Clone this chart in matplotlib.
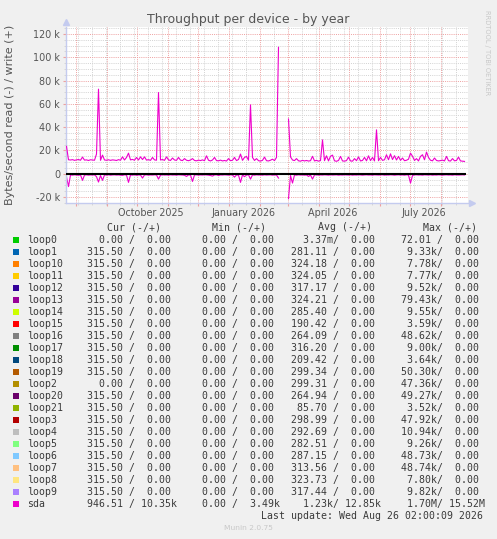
import numpy as np
import matplotlib
matplotlib.use('Agg')
import matplotlib.pyplot as plt
import matplotlib.dates as mdates
from matplotlib.patches import Rectangle
from matplotlib.ticker import FixedLocator, MultipleLocator, FuncFormatter, NullFormatter

# ---------------- data ----------------
start_day = np.datetime64('2025-07-22')
first_sample = np.datetime64('2025-07-22T12:00')
end_day = np.datetime64('2026-08-28')
data_end = np.datetime64('2026-08-26')

# sda write (+) in kB/s, one sample every 2 days
write_k = [
    23.5, 12.0, 11.8, 12.1, 11.5, 11.9, 12.2, 11.6, 14.3, 11.7, 11.9, 11.4, 12.0, 11.8, 11.6, 16.9, 72.6, 11.5, 16.0, 11.8,
    11.6, 12.0, 11.5, 11.9, 11.7, 11.4, 12.1, 11.6, 14.5, 11.8, 14.0, 17.7, 11.9, 12.3, 11.6, 14.0, 11.8, 14.5, 12.2, 14.5,
    11.7, 12.1, 11.5, 14.0, 11.9, 11.6, 69.7, 11.8, 12.2, 11.5, 14.5, 11.9, 11.4, 13.5, 11.8, 11.5, 14.0, 11.7, 11.3, 13.0,
    11.6, 11.2, 11.8, 13.0, 11.4, 11.1, 11.7, 11.3, 11.9, 11.2, 15.4, 11.6, 11.0, 11.8, 14.0, 11.3, 11.1, 11.7, 11.0, 11.4,
    10.9, 13.0, 11.2, 11.6, 14.0, 11.3, 12.2, 16.9, 11.5, 14.0, 14.9, 11.6, 59.1, 14.0, 11.4, 13.0, 11.2, 10.9, 11.5, 14.3,
    11.2, 11.0, 11.6, 12.5, 11.3, 14.0, 108.5, np.nan, np.nan, np.nan, np.nan, 47.0, 14.5, 11.8, 11.3, 13.0, 11.1, 10.8, 11.5, 11.0,
    11.4, 10.9, 11.2, 15.0, 11.0, 11.5, 10.8, 11.3, 29.1, 11.2, 15.4, 11.0, 15.0, 16.0, 11.1, 10.7, 11.4, 14.9, 11.0, 10.8,
    11.3, 14.3, 11.0, 10.8, 13.0, 11.2, 14.5, 11.0, 11.4, 14.0, 11.1, 15.4, 11.3, 14.0, 11.0, 37.7, 11.2, 14.0, 11.5, 12.0,
    16.3, 12.0, 17.1, 12.2, 15.5, 11.8, 14.9, 11.5, 13.5, 11.2, 11.6, 12.5, 17.7, 15.0, 11.4, 13.0, 11.0, 14.9, 16.3, 12.0,
    18.6, 14.0, 11.6, 11.1, 13.5, 11.4, 11.0, 11.3, 11.7, 11.0, 14.9, 11.2, 10.9, 13.0, 11.1, 11.4, 14.3, 11.0, 10.8, 10.6,
]

# sda read (-) in kB/s (magnitude), one sample every 2 days
read_k = [
    2.5, 11.0, 1.0, 1.2, 0.9, 1.1, 1.3, 1.0, 5.7, 1.1, 0.9, 1.2, 1.0, 1.1, 0.9, 2.5, 7.1, 1.5, 5.7, 1.0,
    1.1, 0.9, 1.2, 1.0, 0.9, 1.1, 1.0, 1.2, 1.4, 0.9, 1.1, 7.4, 1.0, 1.2, 0.9, 1.3, 1.0, 1.1, 3.7, 1.0,
    0.9, 1.2, 1.0, 1.1, 0.9, 1.0, 4.6, 1.2, 0.9, 1.1, 1.0, 1.2, 0.9, 1.1, 1.0, 1.2, 0.9, 1.0, 1.1, 1.3,
    2.3, 1.0, 1.1, 6.6, 1.0, 0.9, 1.2, 1.0, 1.1, 0.9, 1.0, 1.2, 1.5, 2.0, 1.0, 0.9, 1.5, 1.0, 1.1, 0.9,
    1.0, 1.2, 0.9, 1.1, 2.9, 1.0, 1.2, 7.4, 1.0, 2.5, 1.1, 0.9, 4.6, 1.0, 1.2, 0.9, 1.1, 1.0, 1.2, 0.9,
    1.1, 1.0, 0.9, 1.2, 1.0, 1.1, 3.7, np.nan, np.nan, np.nan, np.nan, 21.4, 1.5, 8.0, 1.0, 1.2, 0.9, 1.1, 1.0, 1.2,
    1.0, 2.3, 1.1, 4.6, 1.0, 0.9, 1.2, 1.0, 1.1, 0.9, 1.0, 1.2, 0.9, 1.1, 1.0, 0.9, 1.2, 1.0, 1.1, 0.9,
    1.0, 1.1, 0.9, 1.2, 1.0, 1.1, 0.9, 1.0, 1.2, 1.0, 0.9, 1.1, 1.0, 1.2, 0.9, 1.0, 1.1, 1.0, 0.9, 1.2,
    1.0, 1.1, 0.9, 1.0, 1.2, 1.0, 0.9, 1.1, 1.0, 1.2, 0.9, 1.1, 8.0, 1.5, 1.0, 0.9, 1.1, 1.0, 1.2, 0.9,
    1.0, 1.1, 0.9, 1.2, 1.0, 1.1, 0.9, 1.0, 1.2, 1.0, 0.9, 1.1, 1.0, 1.2, 0.9, 1.0, 1.1, 1.0, 0.9, 1.0,
]

xlabel_dates = ['2025-10-15', '2026-01-15', '2026-04-15', '2026-07-15']
xlabel_texts = ['October 2025', 'January 2026', 'April 2026', 'July 2026']

names = ['loop0', 'loop1', 'loop10', 'loop11', 'loop12', 'loop13', 'loop14', 'loop15',
         'loop16', 'loop17', 'loop18', 'loop19', 'loop2', 'loop20', 'loop21', 'loop3',
         'loop4', 'loop5', 'loop6', 'loop7', 'loop8', 'loop9', 'sda']
colors = ['#00cc00', '#0066b3', '#ff8000', '#ffcc00', '#330099', '#990099', '#ccff00', '#ff0000',
          '#808080', '#008f00', '#00487d', '#b35a00', '#b38f00', '#6b006b', '#8fb300', '#b30000',
          '#bebebe', '#80ff80', '#80c9ff', '#ffc080', '#ffe680', '#aa80ff', '#ee00cc']
cur_read = ['0.00', '315.50', '315.50', '315.50', '315.50', '315.50', '315.50', '315.50',
            '315.50', '315.50', '315.50', '315.50', '0.00', '315.50', '315.50', '315.50',
            '315.50', '315.50', '315.50', '315.50', '315.50', '315.50', '946.51']
cur_write = ['0.00', '0.00', '0.00', '0.00', '0.00', '0.00', '0.00', '0.00',
             '0.00', '0.00', '0.00', '0.00', '0.00', '0.00', '0.00', '0.00',
             '0.00', '0.00', '0.00', '0.00', '0.00', '0.00', '10.35k']
min_read = ['0.00', '0.00', '0.00', '0.00', '0.00', '0.00', '0.00', '0.00',
            '0.00', '0.00', '0.00', '0.00', '0.00', '0.00', '0.00', '0.00',
            '0.00', '0.00', '0.00', '0.00', '0.00', '0.00', '0.00']
min_write = ['0.00', '0.00', '0.00', '0.00', '0.00', '0.00', '0.00', '0.00',
             '0.00', '0.00', '0.00', '0.00', '0.00', '0.00', '0.00', '0.00',
             '0.00', '0.00', '0.00', '0.00', '0.00', '0.00', '3.49k']
avg_read = ['3.37m', '281.11', '324.18', '324.05', '317.17', '324.21', '285.40', '190.42',
            '264.09', '316.20', '209.42', '299.34', '299.31', '264.94', '85.70', '298.99',
            '292.69', '282.51', '287.15', '313.56', '323.73', '317.44', '1.23k']
avg_write = ['0.00', '0.00', '0.00', '0.00', '0.00', '0.00', '0.00', '0.00',
             '0.00', '0.00', '0.00', '0.00', '0.00', '0.00', '0.00', '0.00',
             '0.00', '0.00', '0.00', '0.00', '0.00', '0.00', '12.85k']
max_read = ['72.01', '9.33k', '7.78k', '7.77k', '9.52k', '79.43k', '9.55k', '3.59k',
            '48.62k', '9.00k', '3.64k', '50.30k', '47.36k', '49.27k', '3.52k', '47.92k',
            '10.94k', '9.26k', '48.73k', '48.74k', '7.80k', '9.82k', '1.70M']
max_write = ['0.00', '0.00', '0.00', '0.00', '0.00', '0.00', '0.00', '0.00',
             '0.00', '0.00', '0.00', '0.00', '0.00', '0.00', '0.00', '0.00',
             '0.00', '0.00', '0.00', '0.00', '0.00', '0.00', '15.52M']

# ---------------- figure ----------------
W, H, DPI = 497, 539, 100
BG = '#f0f0f0'
TXT = '#3a3a3a'
AXC = '#c4cbef'
MGRID = '#eea0a0'
GRID = '#d2d2d2'

fig = plt.figure(figsize=(W / DPI, H / DPI), dpi=DPI, facecolor=BG)


def fx(px):
    return px / W


def fy(py):
    return 1 - py / H


ax_l, ax_r, ax_t, ax_b = 66, 468, 26.7, 203
ax = fig.add_axes([fx(ax_l), fy(ax_b), (ax_r - ax_l) / W, (ax_b - ax_t) / H])
ax.set_facecolor('white')

dates = first_sample + np.arange(len(write_k)) * np.timedelta64(2, 'D')
write_arr = np.array(write_k, dtype=float)
read_arr = -np.array(read_k, dtype=float)

ax.hlines(0, start_day, data_end, color='black', lw=1.5, zorder=3)
ax.plot(dates, write_arr, color='#ee00cc', lw=0.8, zorder=4)
ax.plot(dates, read_arr, color='#ee00cc', lw=0.8, zorder=2)

ax.set_xlim(start_day, end_day)
ax.set_ylim(-25.1, 126.2)

# grids
ax.xaxis.set_major_locator(mdates.MonthLocator())
ax.xaxis.set_major_formatter(NullFormatter())
biweekly = np.arange(np.datetime64('2025-08-03'), end_day, np.timedelta64(14, 'D'))
ax.xaxis.set_minor_locator(FixedLocator(mdates.date2num(biweekly)))
ax.xaxis.set_minor_formatter(NullFormatter())
ax.yaxis.set_major_locator(MultipleLocator(20))
ax.yaxis.set_minor_locator(MultipleLocator(5))
ax.yaxis.set_major_formatter(FuncFormatter(lambda v, p: '0' if abs(v) < 1e-9 else f'{int(round(v))} k'))

ax.grid(which='minor', color=GRID, linestyle=(0, (1, 1.2)), lw=0.7)
ax.grid(which='major', color=MGRID, linestyle=(0, (1, 1.2)), lw=0.7)
ax.set_axisbelow(True)

for s in ['top', 'right']:
    ax.spines[s].set_visible(False)
for s in ['left', 'bottom']:
    ax.spines[s].set_color(AXC)
    ax.spines[s].set_linewidth(1.0)

ax.tick_params(axis='y', which='major', length=2, color=MGRID, labelsize=6.9, labelcolor='#555555', pad=2.3)
ax.tick_params(axis='y', which='minor', length=1.5, color=GRID)
ax.tick_params(axis='x', which='major', length=2.2, color=MGRID)
ax.tick_params(axis='x', which='minor', length=1.5, color=GRID)

sec = ax.secondary_xaxis('bottom')
sec.set_xticks(mdates.date2num(np.array(xlabel_dates, dtype='datetime64[D]')))
sec.set_xticklabels(xlabel_texts)
sec.tick_params(length=0, pad=3.3, labelsize=6.9, labelcolor='#555555')
sec.spines['bottom'].set_visible(False)

# axis arrows
ax.plot([0], [1 + 4.5 / (ax_b - ax_t)], marker='^', ms=4, color=AXC, transform=ax.transAxes, clip_on=False)
ax.plot([1 + 3.5 / (ax_r - ax_l)], [0], marker='>', ms=4, color=AXC, transform=ax.transAxes, clip_on=False)

# titles
fig.text(fx(248.3), fy(19), 'Throughput per device - by year', ha='center', va='center',
         fontsize=9, color='#555555')
fig.text(fx(10), fy(115), 'Bytes/second read (-) / write (+)', ha='center', va='center',
         rotation=90, fontsize=8, color='#555555')
fig.text(fx(487), fy(53), 'RRDTOOL / TOBI OETIKER', ha='center', va='center',
         rotation=270, fontsize=4.8, color='#c8c8c8')

# legend table
MONO = 'DejaVu Sans Mono'
FS = 7.1


def fmt(s):
    if s[-1].isalpha():
        return f'{s[:-1]:>6}{s[-1]}'
    return f'{s:>6} '


col_x = [87.3, 189.9, 291.3, 394.9]
head_x = [107.3, 212.3, 318.0, 422.7]
heads = ['Cur (-/+)', 'Min (-/+)', 'Avg (-/+)', 'Max (-/+)']
for hx, ht in zip(head_x, heads):
    fig.text(fx(hx), fy(227.5), ht, ha='left', va='center', family=MONO, fontsize=FS, color=TXT)

row0, dy = 240.0, 12.0
for i, nm in enumerate(names):
    y = row0 + dy * i
    fig.patches.append(Rectangle((fx(13.3), fy(y + 3)), 6 / W, 6 / H, transform=fig.transFigure,
                                 facecolor=colors[i], edgecolor='none'))
    fig.text(fx(26.7), fy(y), nm, ha='left', va='center', family=MONO, fontsize=FS, color=TXT)
    fields = [fmt(cur_read[i]) + '/' + fmt(cur_write[i]),
              fmt(min_read[i]) + '/' + fmt(min_write[i]),
              fmt(avg_read[i]) + '/' + fmt(avg_write[i]),
              fmt(max_read[i]) + '/' + fmt(max_write[i])]
    for cx, f in zip(col_x, fields):
        fig.text(fx(cx), fy(y), f, ha='left', va='center', family=MONO, fontsize=FS, color=TXT)

fig.text(fx(483.4), fy(516), 'Last update: Wed Aug 26 02:00:09 2026', ha='right', va='center',
         family=MONO, fontsize=FS, color=TXT)
fig.text(fx(248.5), fy(528), 'Munin 2.0.75', ha='center', va='center', fontsize=5.4, color='#c8c8c8')

fig.savefig('out.png', dpi=DPI, facecolor=BG)
